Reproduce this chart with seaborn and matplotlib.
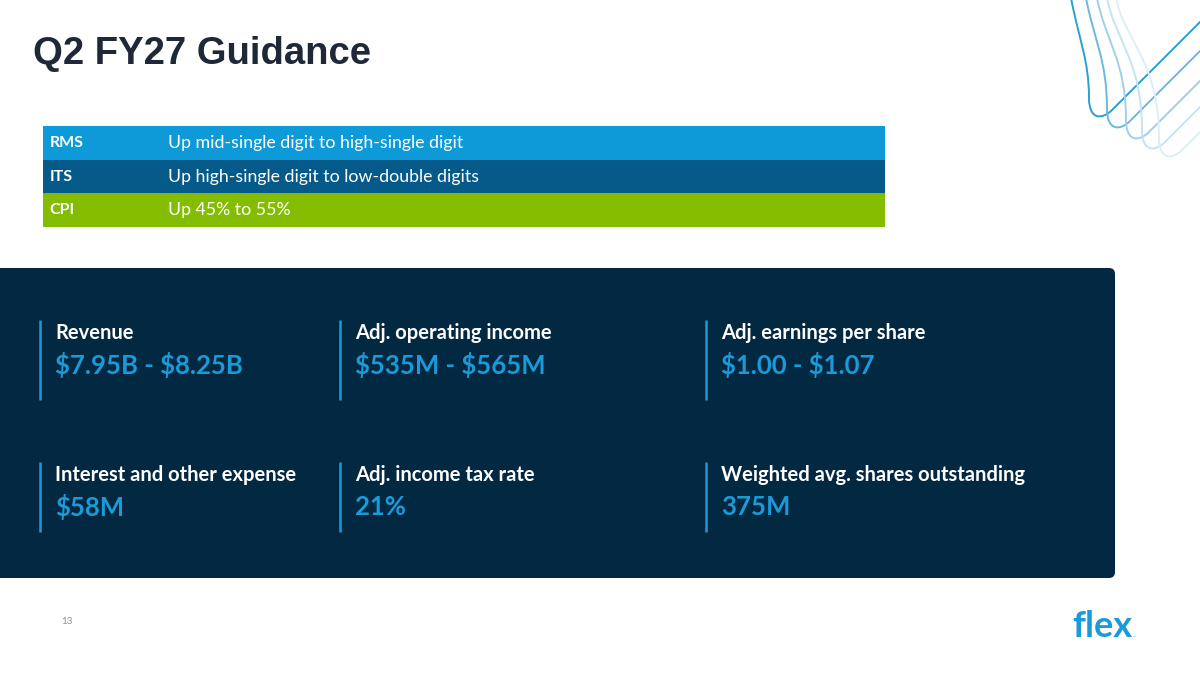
import numpy as np
import matplotlib
matplotlib.use("Agg")
import matplotlib.pyplot as plt
import seaborn as sns
from matplotlib.patches import FancyBboxPatch
from matplotlib.path import Path
from matplotlib.patches import PathPatch

# --- slide content ---
title = "Q2 FY27 Guidance"

segments = ["RMS", "ITS", "CPI"]
segment_outlook = [
    "Up mid-single digit to high-single digit",
    "Up high-single digit to low-double digits",
    "Up 45% to 55%",
]
segment_colors = ["#0e9ad8", "#065a8a", "#84bd00"]

metric_labels = [
    "Revenue", "Adj. operating income", "Adj. earnings per share",
    "Interest and other expense", "Adj. income tax rate", "Weighted avg. shares outstanding",
]
metric_values = [
    "$7.95B - $8.25B", "$535M - $565M", "$1.00 - $1.07",
    "$58M", "21%", "375M",
]
page_number = "13"

sns.set_style("white")
plt.rcParams["font.family"] = ["Lato", "DejaVu Sans"]
plt.rcParams["text.parse_math"] = False

NAVY = "#032842"
BLUE = "#1b9ad8"
W, H = 1200, 674

fig = plt.figure(figsize=(12, 6.74), dpi=100)
ax = fig.add_axes([0, 0, 1, 1])
ax.set_xlim(0, W)
ax.set_ylim(H, 0)
ax.axis("off")

# title
ax.text(33, 54, title, fontsize=27.5, fontweight="bold", color="#1e2838",
        family="Liberation Sans", va="center", ha="left")

# segment table drawn as a horizontal seaborn barplot
t_left, t_top, t_right, t_bot = 43, 126, 885, 227
ax_t = fig.add_axes([t_left / W, 1 - t_bot / H, (t_right - t_left) / W, (t_bot - t_top) / H])
sns.barplot(x=[1] * len(segments), y=segments, hue=segments, palette=segment_colors,
            orient="h", width=1.0, saturation=1, linewidth=0, legend=False, ax=ax_t)
ax_t.set_xlim(0, 1)
ax_t.set_ylim(len(segments) - 0.5, -0.5)
ax_t.axis("off")
for i, (seg, txt) in enumerate(zip(segments, segment_outlook)):
    ax_t.text(0.008, i, seg, color="white", fontsize=11.5, fontweight="bold", va="center")
    ax_t.text(0.148, i, txt, color="white", fontsize=12.8, va="center")

# navy panel
panel = FancyBboxPatch((-20, 268), 1135, 310, boxstyle="round,pad=0,rounding_size=6",
                       facecolor=NAVY, edgecolor="none")
ax.add_patch(panel)

col_x = [40, 340, 706]
row_y = [320, 462]
for k, (lab, val) in enumerate(zip(metric_labels, metric_values)):
    cx = col_x[k % 3]
    ry = row_y[k // 3]
    ax.plot([cx, cx], [ry, ry + 80 if k < 3 else ry + 70], color=BLUE, lw=1.8,
            solid_capstyle="butt")
    ax.text(cx + 15, ry + 13, lab, color="white", fontsize=14.5, fontweight="bold", va="center")
    ax.text(cx + 15, ry + 45, val, color=BLUE, fontsize=18.5, fontweight="bold", va="center")

# decorative curves, top right
curve_tops = [1071, 1086, 1097, 1107, 1116]
curve_bottoms = [(1100, 118), (1118, 129), (1137, 140), (1153, 150), (1170, 158)]
curve_colors = ["#2b9fd2", "#6cb9dd", "#9fd0e8", "#c6e3f1", "#ddeef6"]
for x0, (xb, yb), c in zip(curve_tops, curve_bottoms, curve_colors):
    xl = xb - 11
    verts = [
        (x0, -2),
        (x0 + 8, 40), (xl, 60), (xl, yb - 20),
        (xl, yb + 2), (xb + 2, yb + 2), (xb + 12, yb - 8),
        (xb + 12 + 140, yb - 8 - 140),
    ]
    codes = [Path.MOVETO, Path.CURVE4, Path.CURVE4, Path.CURVE4,
             Path.CURVE4, Path.CURVE4, Path.CURVE4, Path.LINETO]
    ax.add_patch(PathPatch(Path(verts, codes), fill=False, edgecolor=c, lw=1.4))

# footer
ax.text(61, 621, page_number, color="#8a8f98", fontsize=7, va="center")
ax.text(1072, 637, "flex", color=BLUE, fontsize=26, fontweight="bold", va="baseline")
ax.text(1133, 637, ".", color=BLUE, fontsize=6, va="baseline")

fig.savefig("out.png", dpi=100)
